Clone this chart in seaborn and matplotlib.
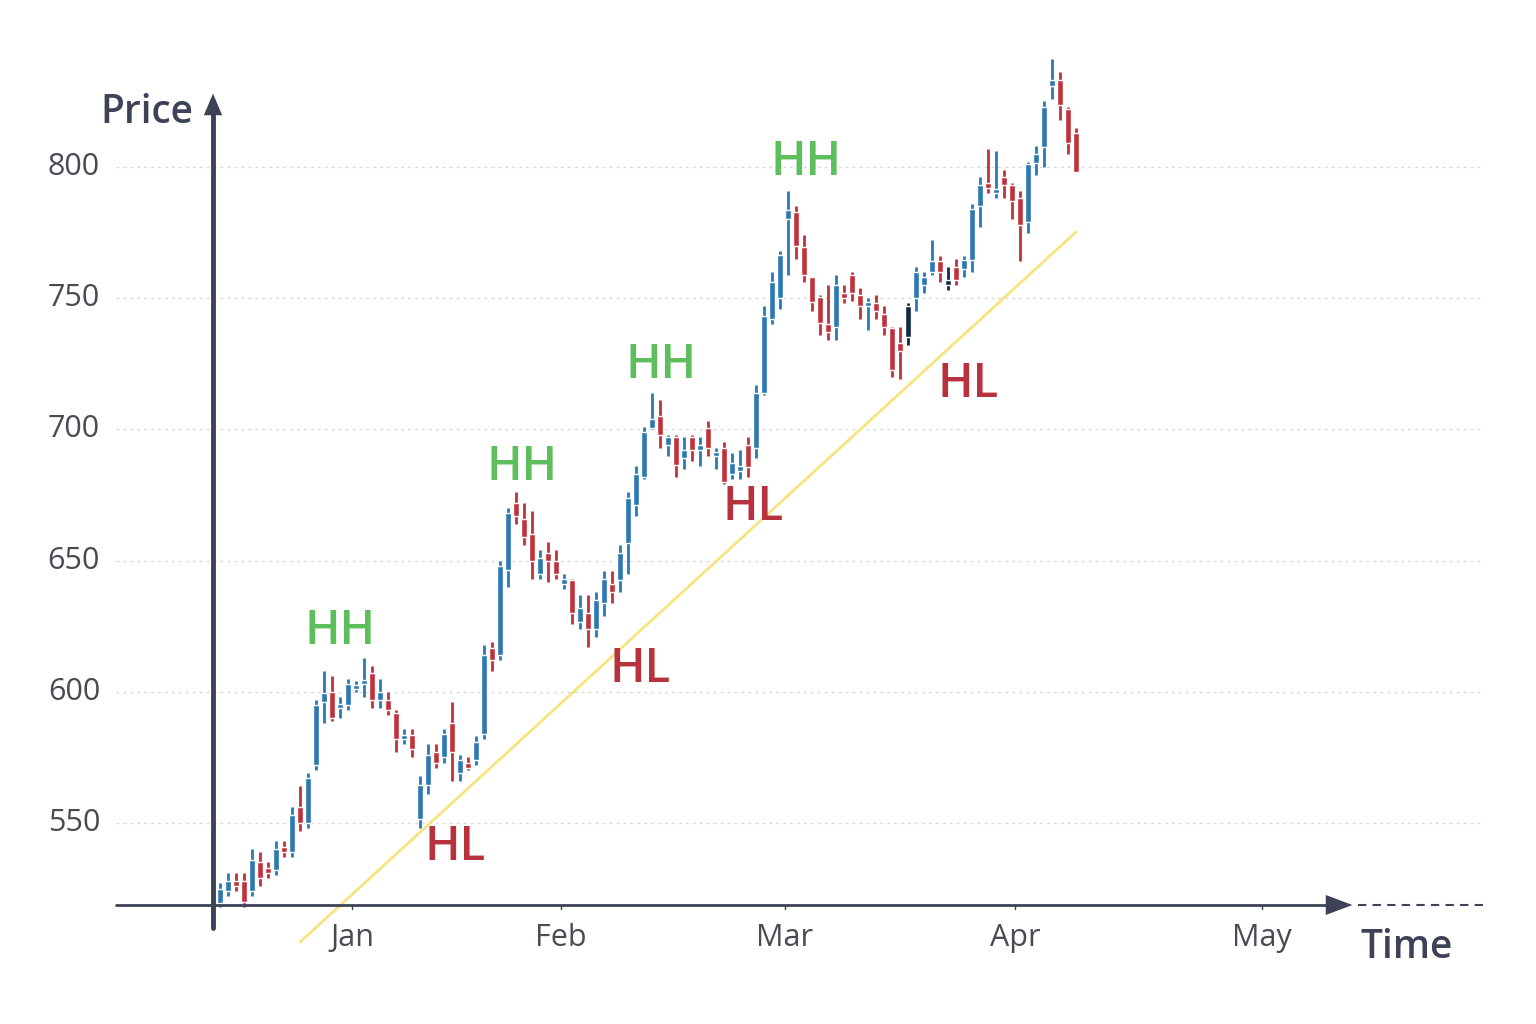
import matplotlib
matplotlib.use("Agg")
import matplotlib.pyplot as plt
import seaborn as sns
import numpy as np
import pandas as pd

opens = [519.5,524,528,528,524,535,533,532,541,539,556,550,572,596,600,594,595,601,603,607,597,597,592,582,583.5,551.5,564.5,577,575,588,569,573,574,584,616.5,
         614,646.5,672,666,660,645,653,650,641,642.6,626.5,630,624,634,641,642.6,656.7,671,682,700.5,705,694,697,689,697,692,700.5,690,693,683,684,694,693,
         714,742,750,780,783,769.5,758,750.5,740,739,752,759,751,747,748,744,738.6,733,735,750,755,760,764,755,762,761,764.5,785,794,790,796,793,788,779,801.5,807.6,831,833,822,813]
closes = [525,528,526,520,536,529,531,540,539,553,550,567,595,599.5,590,595,603,602,604,597,600,593,582,583,578,564.5,576,573,584,577,574,571,581,614,612,
          648,668,667,659,650,651,650,645,643,630,632,624,635,643,638,653,674,683,699,704,698,697,686.5,692,692,694,693,691,680,687,686,685.6,714,
          743,756,766.5,783.6,770,759,748.5,740.5,737,755,750,752,747,748,745,739,722.6,730,747,760,758,764,760,757,757,764.5,784,793,792,791,793,787,778,801,805,823,833,823.6,809,798]
highs = [527,531,531,531,540,539,535,543,543,556,564,569,597,608,606,598,605,604,613,610,605,600,593,586,586,568,580,580,586,596,576,575,583,618,619,
         650,670,676,672,669,654,657,654,645,643,637,637,638,646,646,656,676,686,701,714,711,698,698,697,698,697,703,693,695,691,692,697,717,
         747,760,768,791,785,774,758,751,755,759,755,760,754,750,751,747,739,739,748,762,760,772,766,762,765,766,786,796,807,806,799,794,791,802,808,825,841,836,823,815]
lows = [518,522,524,518,522,526,529,530,537,537,547,548,570,588,589,590,593,600,598,594,594,591,577,580,575,548,561,571,573,566,566,570,572,582,608,
        612,640,664,656,643,643,642,643,639,626,624,617,621,629,634,638,645,667,681,700,693,690,682,685,688,686,690,685,679,681,681,682,689,
        713,740,746,759,765,756,745,736,734,734,748,749,742,738,742,736,720,719,732,745,752,759,756,753,755,758,760,777,790,788,788,780,764,775,797,800,826,818,805,798]
dark_idx = [86, 91]
months = ["Jan", "Feb", "Mar", "Apr", "May"]
month_pos = [16.5, 42.6, 70.6, 99.4, 130.25]
yticks = [550, 600, 650, 700, 750, 800]
trend_x = [10, 107]
trend_y = [504.6, 775.2]
hh_labels = [(15, 622.8), (37.75, 685.3), (55.1, 724.5), (73.25, 801.5)]
hl_labels = [(29.4, 540.5), (52.5, 608.3), (66.6, 670.4), (93.5, 717)]

sns.set_theme(style="white")
plt.rcParams['font.family'] = ['Open Sans', 'DejaVu Sans']

df = pd.DataFrame({"o": opens, "c": closes, "h": highs, "l": lows})
df["i"] = np.arange(len(df))
df["up"] = df["c"] >= df["o"]

fig = plt.figure(figsize=(15.36, 10.24), dpi=100)
ax = fig.add_axes([0, 0, 1, 1])
ax.set_xlim(-27.5, 164.5)
ax.set_ylim(473.4, 863.6)
ax.axis("off")

AX = "#3d4256"
for y in yticks:
    ax.plot([-13, 158], [y, y], color="#d9d9d9", lw=1, ls=(0, (2, 3)), zorder=0)
    ax.text(-15, y, str(y), ha="right", va="center", fontsize=22, color="#4a4a55")

BLUE, RED = "#2b79b2", "#c1313b"
cols = [("#102c44" if i in dark_idx else (BLUE if u else RED)) for i, u in zip(df.i, df.up)]
ax.vlines(df.i, df.l, df.h, colors=cols, lw=2, zorder=3)
body_lo = np.minimum(df.o, df.c)
body_h = np.maximum(np.abs(df.c - df.o), 1.5)
ax.bar(df.i, body_h, bottom=body_lo, width=0.85, color=cols, zorder=4)

sns.lineplot(x=trend_x, y=trend_y, ax=ax, color="#f6e57e", lw=2, zorder=2)

# axes
ax.plot([-0.875, -0.875], [510, 822], color=AX, lw=3.5, zorder=5)
ax.annotate("", xy=(-0.875, 829), xytext=(-0.875, 815),
            arrowprops=dict(arrowstyle="-|>,head_width=0.55,head_length=1.3", color=AX, lw=0), zorder=5)
ax.plot([-13, 138.5], [518.75, 518.75], color=AX, lw=2, zorder=5)
ax.annotate("", xy=(141.9, 518.75), xytext=(137.5, 518.75),
            arrowprops=dict(arrowstyle="-|>,head_width=0.6,head_length=1.6", color=AX, lw=0), zorder=5)
ax.plot([142.3, 158], [518.75, 518.75], color=AX, lw=1.5, ls=(0, (4, 3)), zorder=5)
for p, m in zip(month_pos, months):
    ax.plot([p, p], [518.75, 517.3], color=AX, lw=1)
    ax.text(p, 506, m, ha="center", va="center", fontsize=22, color="#4a4a55")
ax.text(-3.3, 820.5, "Price", ha="right", va="center", fontsize=28, color=AX, fontweight="semibold")
ax.text(148.3, 502.5, "Time", ha="center", va="center", fontsize=28, color=AX, fontweight="semibold")

for x, y in hh_labels:
    ax.text(x, y, "HH", ha="center", va="center", fontsize=34, color="#5cbf5c", zorder=6, fontweight="semibold")
for x, y in hl_labels:
    ax.text(x, y, "HL", ha="center", va="center", fontsize=34, color="#b8323d", zorder=6, fontweight="semibold")

fig.savefig("out.png", dpi=100, facecolor="white")
